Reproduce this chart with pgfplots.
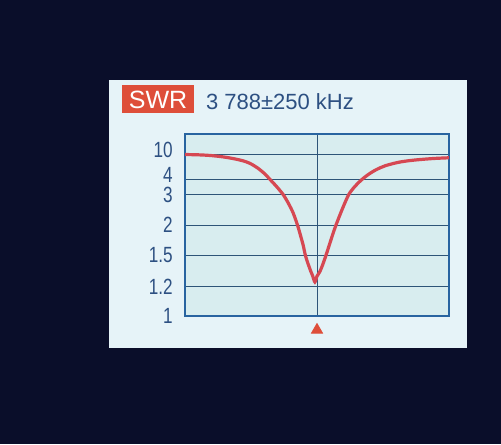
\documentclass[border=0pt]{standalone}
\usepackage{pgfplots}
\pgfplotsset{compat=1.18}
\usepackage{fontspec}
\setmainfont{Liberation Sans}
\newfontfamily\narrowfont[FakeStretch=0.78]{Liberation Sans}

\definecolor{bgnavy}{RGB}{10,14,42}
\definecolor{panel}{RGB}{230,243,248}
\definecolor{plotbg}{RGB}{216,237,239}
\definecolor{gridc}{RGB}{45,85,120}
\definecolor{framec}{RGB}{40,100,160}
\definecolor{labelc}{RGB}{45,80,130}
\definecolor{swrred}{RGB}{222,78,58}
\definecolor{curvec}{RGB}{214,72,82}

\begin{document}
\begin{tikzpicture}
% screen photo background, 1 px = 0.5pt, y downwards
\begin{scope}[x=0.5pt,y=-0.5pt]
  \fill[bgnavy] (0,0) rectangle (501,444);
  \fill[panel] (109,80) rectangle (467,348);
  \fill[swrred] (122,85) rectangle (194,113);
  \node[white, font=\fontsize{12.5}{12.5}\selectfont] at (158,99.5) {SWR};
  \node[labelc, anchor=west, font=\fontsize{11}{11}\selectfont] at (199,102) {3 788±250 kHz};
\end{scope}

\begin{axis}[
  at={(92.5pt,-158pt)}, anchor=south west,
  scale only axis,
  width=132pt, height=91pt,
  xmin=3538, xmax=4038,
  ymin=1, ymax=30,
  % SWR scale of the analyser (piecewise, between the grid values)
  y coord trafo/.code={\pgfmathparse{(#1<1.2)?((#1-1)*150):((#1<1.5)?(30+(#1-1.2)*106.667):((#1<2)?(62+(#1-1.5)*62):((#1<3)?(93+(#1-2)*31):((#1<4)?(124+(#1-3)*15):((#1<10)?(139+(#1-4)*4.3333):(165+(#1-10)*1.05))))))}},
  ytick={1,1.2,1.5,2,3,4,10},
  yticklabels={\raisebox{-0.5pt}{1},1.2,1.5,2,\raisebox{-1pt}{3},\raisebox{5pt}{4},\raisebox{4.5pt}{10}},
  xtick={3788}, xticklabels={},
  major tick length=0pt,
  grid=major,
  grid style={gridc, line width=0.5pt},
  axis line style={framec, line width=0.9pt},
  axis background/.style={fill=plotbg},
  yticklabel style={labelc, inner sep=0pt, xshift=-6pt,
    font=\narrowfont\fontsize{11}{11}\selectfont},
  clip=false,
]
\addplot[curvec, line width=1.6pt, smooth] coordinates {
  (3538,10.0) (3560,9.95) (3585,9.79) (3610,9.45) (3630,9.03) (3648,8.52)
  (3661,7.92) (3675,6.88) (3688,5.57) (3700,4.0) (3712,3.53) (3724,3.0)
  (3734,2.71) (3743,2.39) (3751,2.0) (3757,1.82) (3762,1.66) (3766,1.5)
  (3771,1.42) (3776,1.35) (3780,1.30) (3784,1.245) (3788,1.30) (3793,1.34)
  (3798,1.40) (3805,1.5) (3812,1.69) (3818,1.85) (3824,2.0) (3836,2.53)
  (3848,3.0) (3860,3.57) (3872,4.0) (3885,5.29) (3900,6.42) (3917,7.35)
  (3940,8.11) (3960,8.52) (3983,8.82) (4010,9.08) (4038,9.24)
};
% marker under the centre frequency
\addplot[only marks, mark=triangle*, mark size=3.2pt, color=swrred]
  coordinates {(3788,0.905)};
\end{axis}
\end{tikzpicture}
\end{document}
